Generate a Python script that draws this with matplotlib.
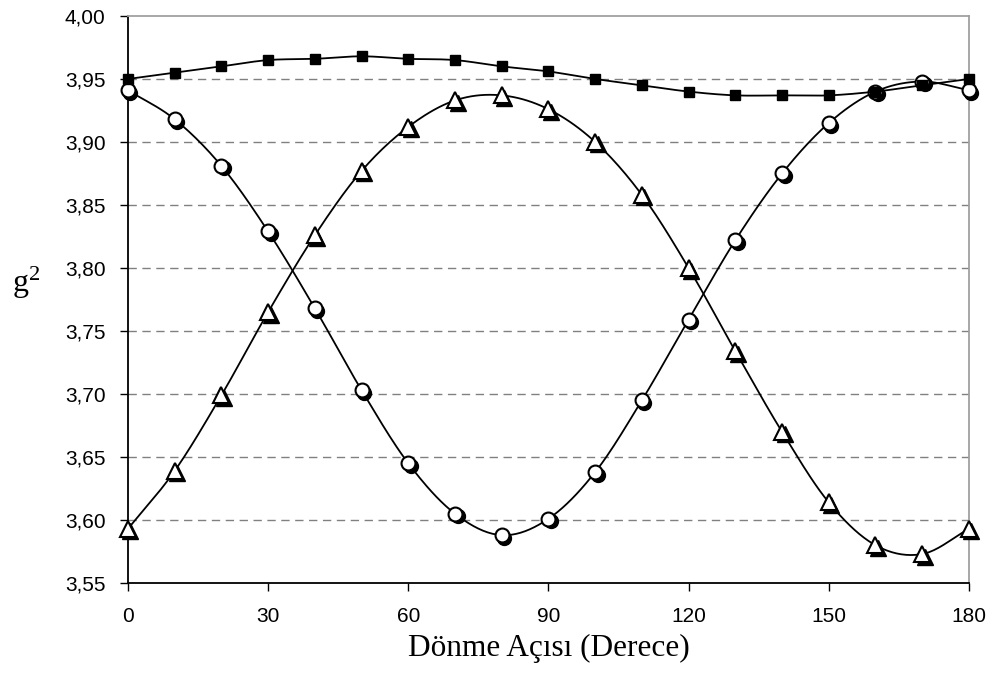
import numpy as np
import matplotlib
matplotlib.use("Agg")
import matplotlib.pyplot as plt
import matplotlib.transforms as mtransforms

plt.rcParams['mathtext.fontset'] = 'custom'
plt.rcParams['mathtext.rm'] = 'Liberation Serif'
plt.rcParams['mathtext.it'] = 'Liberation Serif'

# data
angle = [0, 10, 20, 30, 40, 50, 60, 70, 80, 90, 100, 110, 120, 130, 140, 150, 160, 170, 180]
g2_square = [3.950, 3.955, 3.960, 3.965, 3.966, 3.968, 3.966, 3.965, 3.960, 3.956,
             3.950, 3.945, 3.940, 3.937, 3.937, 3.937, 3.940, 3.945, 3.950]
g2_circle = [3.941, 3.918, 3.881, 3.829, 3.768, 3.703, 3.645, 3.605, 3.588, 3.601,
             3.638, 3.695, 3.759, 3.822, 3.875, 3.915, 3.940, 3.948, 3.941]
g2_triangle = [3.593, 3.639, 3.699, 3.765, 3.826, 3.877, 3.912, 3.933, 3.937, 3.926,
               3.900, 3.858, 3.800, 3.734, 3.670, 3.614, 3.580, 3.573, 3.593]
y_ticks = [3.55, 3.60, 3.65, 3.70, 3.75, 3.80, 3.85, 3.90, 3.95, 4.00]
x_ticks = [0, 30, 60, 90, 120, 150, 180]


def smooth(x, y, n=20):
    # Catmull-Rom curve through the points (like Excel's smoothed line)
    x = np.asarray(x, float)
    y = np.asarray(y, float)
    px = np.concatenate([[2 * x[0] - x[1]], x, [2 * x[-1] - x[-2]]])
    py = np.concatenate([[2 * y[0] - y[1]], y, [2 * y[-1] - y[-2]]])
    xs, ys = [], []
    t = np.linspace(0, 1, n, endpoint=False)
    for i in range(1, len(px) - 2):
        for p, out in ((px, xs), (py, ys)):
            p0, p1, p2, p3 = p[i - 1], p[i], p[i + 1], p[i + 2]
            out.extend(0.5 * (2 * p1 + (-p0 + p2) * t + (2 * p0 - 5 * p1 + 4 * p2 - p3) * t ** 2
                              + (-p0 + 3 * p1 - 3 * p2 + p3) * t ** 3))
    xs.append(x[-1])
    ys.append(y[-1])
    return xs, ys


fig = plt.figure(figsize=(9.99, 6.77), dpi=100)
ax = fig.add_axes([0.1281, 0.1388, 0.8418, 0.8376])

ax.set_xlim(0, 180)
ax.set_ylim(3.55, 4.00)

for yt in y_ticks[1:-1]:
    ax.axhline(yt, color='#808080', linestyle=(0, (6, 4)), linewidth=1.0, zorder=1)

shadow = mtransforms.offset_copy(ax.transData, fig=fig, x=2.5, y=-2.5, units='dots')

# circles
sx, sy = smooth(angle, g2_circle)
ax.plot(sx, sy, color='black', linewidth=1.3, zorder=2)
ax.plot(angle, g2_circle, linestyle='none', marker='o', markersize=10, color='black',
        transform=shadow, zorder=3, clip_on=False)
ax.plot(angle, g2_circle, linestyle='none', marker='o', markersize=10, markerfacecolor='white',
        markeredgecolor='black', markeredgewidth=1.5, zorder=4, clip_on=False)

# triangles
sx, sy = smooth(angle, g2_triangle)
ax.plot(sx, sy, color='black', linewidth=1.3, zorder=2)
ax.plot(angle, g2_triangle, linestyle='none', marker='^', markersize=11, color='black',
        transform=shadow, zorder=3, clip_on=False)
ax.plot(angle, g2_triangle, linestyle='none', marker='^', markersize=11, markerfacecolor='white',
        markeredgecolor='black', markeredgewidth=1.5, zorder=4, clip_on=False)

# squares
sx, sy = smooth(angle, g2_square)
ax.plot(sx, sy, color='black', linewidth=1.3, zorder=5)
ax.plot(angle, g2_square, linestyle='none', marker='s', markersize=7.5, color='black',
        zorder=6, clip_on=False)

ax.set_xticks(x_ticks)
ax.set_xticklabels([str(v) for v in x_ticks], fontsize=15, family='Liberation Sans')
ax.set_yticks(y_ticks)
ax.set_yticklabels([('%.2f' % v).replace('.', ',') for v in y_ticks], fontsize=15, family='Liberation Sans')
ax.tick_params(direction='out', length=6, width=1.0, color='black')
ax.tick_params(axis='y', pad=10)
ax.tick_params(axis='x', pad=11)

ax.spines['top'].set_color('#a0a0a0')
ax.spines['right'].set_color('#a0a0a0')
ax.spines['left'].set_color('black')
ax.spines['bottom'].set_color('black')
for s in ax.spines.values():
    s.set_linewidth(1.3)

ax.set_xlabel('Dönme Açısı (Derece)', fontsize=22.5, family='Liberation Serif', labelpad=6)
fig.text(26 / 999, 1 - 283 / 677, 'g$^2$', fontsize=23, family='Liberation Serif',
         ha='center', va='center')

fig.savefig('out.png', dpi=100, facecolor='white')
